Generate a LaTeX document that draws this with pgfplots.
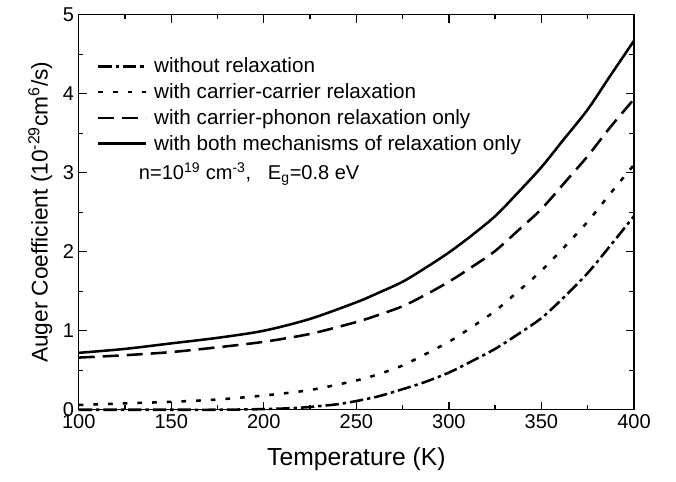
\documentclass[border=0pt]{standalone}
\usepackage{fontspec}
\setmainfont{Liberation Sans}
\usepackage{pgfplots}
\pgfplotsset{compat=1.18}

\begin{document}
\begin{tikzpicture}
\begin{axis}[
    name=ax,
    width=416pt, height=296pt,
    scale only axis,
    xmin=100, xmax=400, ymin=0, ymax=5,
    xtick={100,150,...,400}, ytick={0,1,...,5},
    minor x tick num=1, minor y tick num=1,
    tick align=inside,
    major tick length=6pt, minor tick length=3.5pt,
    every tick/.style={black, line width=1pt},
    axis line style={line width=1.1pt},
    /pgf/number format/assume math mode=true,
    tick label style={font=\fontsize{15}{17}\selectfont},
    xlabel={Temperature (K)},
    ylabel={Auger Coefficient (10\textsuperscript{-29}cm\textsuperscript{6}/s)},
    label style={font=\fontsize{18.5}{21}\selectfont},
    xlabel style={yshift=-7pt},
    ylabel style={yshift=1pt, font=\fontsize{17}{20}\selectfont},
    legend style={at={(0.025,0.905)}, anchor=north west, draw=none, fill=none,
        font=\fontsize{15.5}{18}\selectfont, row sep=2.6pt,
        /tikz/every odd column/.append style={column sep=3pt}},
    legend cell align=left,
    legend image code/.code={\draw[#1] (0pt,0pt) -- (36pt,0pt);},
    every axis plot/.append style={black, line width=1.9pt, no markers, smooth},
    clip=false,
]
% without relaxation
\addplot[dash pattern=on 10pt off 3pt on 2.5pt off 3pt] coordinates {
    (100,0.0) (125,0.0) (150,0.0) (175,0.0) (200,0.008) (215,0.02) (225,0.035)
    (240,0.07) (250,0.11) (262,0.17) (275,0.26) (287,0.35) (300,0.47)
    (312,0.61) (325,0.77) (337,0.95) (350,1.16) (362,1.42) (375,1.73)
    (387,2.07) (400,2.45)
};
% carrier-carrier
\addplot[dash pattern=on 3.5pt off 7.5pt] coordinates {
    (100,0.06) (125,0.08) (150,0.10) (175,0.13) (200,0.18) (225,0.25)
    (250,0.37) (262,0.45) (275,0.56) (287,0.70) (300,0.86) (312,1.04)
    (325,1.25) (337,1.49) (350,1.76) (362,2.05) (375,2.38) (387,2.73)
    (400,3.10)
};
% carrier-phonon
\addplot[dash pattern=on 12pt off 6pt] coordinates {
    (100,0.66) (125,0.69) (150,0.73) (175,0.79) (200,0.86) (225,0.96)
    (250,1.11) (262,1.20) (275,1.31) (287,1.45) (300,1.62) (312,1.80)
    (325,2.01) (337,2.26) (350,2.54) (362,2.86) (375,3.21) (387,3.57)
    (400,3.93)
};
% both mechanisms
\addplot[solid] coordinates {
    (100,0.72) (125,0.77) (150,0.84) (175,0.91) (200,1.00) (225,1.15)
    (250,1.36) (262,1.48) (275,1.62) (287,1.79) (300,1.99) (312,2.20)
    (325,2.45) (337,2.74) (350,3.07) (362,3.42) (375,3.80) (387,4.22)
    (400,4.67)
};
\legend{without relaxation, with carrier-carrier relaxation,
    with carrier-phonon relaxation only, with both mechanisms of relaxation only}
\node[anchor=west, font=\fontsize{15}{17}\selectfont] at (axis cs:130,2.98)
    {n=10\textsuperscript{19} cm\textsuperscript{-3},\ \ \ E\textsubscript{g}=0.8 eV};
\end{axis}
\path ([shift={(-59pt,-54pt)}]ax.south west) rectangle ([shift={(31.5pt,11pt)}]ax.north east);
\end{tikzpicture}
\end{document}
